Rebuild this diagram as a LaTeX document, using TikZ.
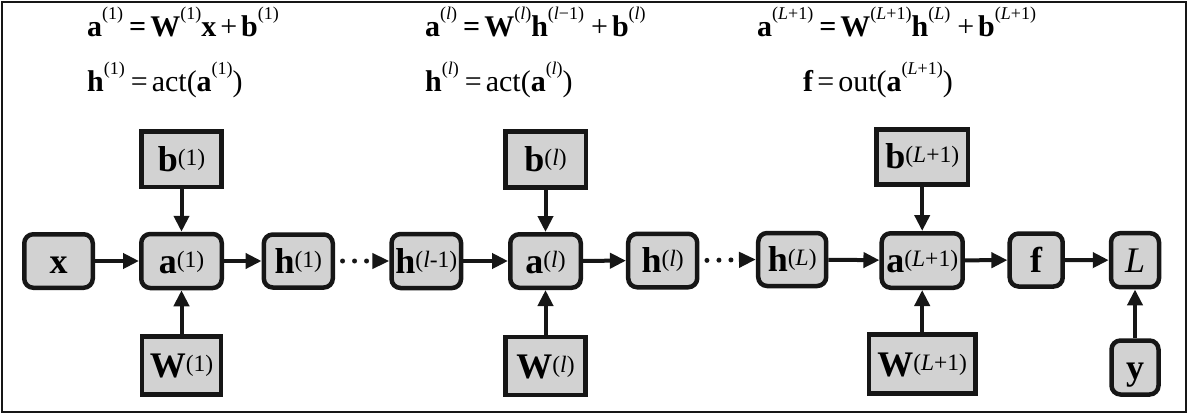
\documentclass[tikz,border=0pt]{standalone}
\usepackage{fontspec}
\setmainfont{Liberation Serif}
\usetikzlibrary{arrows.meta}
\definecolor{boxfill}{RGB}{210,210,210}
\definecolor{ink}{RGB}{22,22,22}
\newcommand{\eqsup}[1]{\raisebox{17pt}{\fontsize{18}{18}\selectfont\mdseries #1}}
\newcommand{\bxsup}[1]{\raisebox{6pt}{\fontsize{23.5}{23.5}\selectfont\mdseries #1}}
\newcommand{\gap}{\kern4pt}
\tikzset{
  boxbase/.style={draw=ink, fill=boxfill, line width=4.5pt, inner sep=0pt,
    text height=24pt, text depth=0pt, font=\fontsize{36}{36}\selectfont\bfseries},
  rbox/.style={boxbase, rounded corners=9pt},
  sbox/.style={boxbase},
  arr/.style={draw=ink, line width=4pt, -{Triangle[length=16pt,width=15pt]}},
  dotarr/.style={draw=ink, line width=5pt, line cap=round, dash pattern=on 0pt off 12pt,
    shorten <=7.5pt, -{Triangle[length=17pt,width=15pt]}},
  eqn/.style={anchor=base west, inner sep=0pt, font=\fontsize{30}{30}\selectfont}
}
\begin{document}
\begin{tikzpicture}[x=1pt,y=-1pt]
\useasboundingbox (0,0) rectangle (1188,414);
\draw[ink, line width=1.6pt] (2,2) rectangle (1186,412);

% equations
\node[eqn] (e1) at (87,36.5) {\textbf{a}\eqsup{(1)}\kern6pt\textbf{=}\gap\textbf{W}\eqsup{(1)}\textbf{x}\gap+\gap\textbf{b}\eqsup{(1)}};
\node[eqn] (e2) at (87,91.5) {\textbf{h}\eqsup{(1)}\kern6pt=\gap act(\textbf{a}\eqsup{(1)})};
\node[eqn] (e3) at (425,36.5) {\textbf{a}\eqsup{(\textit{l})}\kern6pt\textbf{=}\gap\textbf{W}\eqsup{(\textit{l})}\textbf{h}\eqsup{(\textit{l}−1)}\kern7pt+\gap\textbf{b}\eqsup{(\textit{l})}};
\node[eqn] (e4) at (425,91.5) {\textbf{h}\eqsup{(\textit{l})}\kern6pt=\gap act(\textbf{a}\eqsup{(\textit{l})})};
\node[eqn] (e5) at (757,36.5) {\textbf{a}\eqsup{(\textit{L}+1)}\kern6pt\textbf{=}\gap\textbf{W}\eqsup{(\textit{L}+1)}\textbf{h}\eqsup{(\textit{L})}\kern7pt+\gap\textbf{b}\eqsup{(\textit{L}+1)}};
\node[eqn] (e6) at (803,91.5) {\textbf{f}\gap=\gap out(\textbf{a}\eqsup{(\textit{L}+1)})};

% main row
\node[rbox, minimum width=68.5pt, minimum height=53.5pt] (x) at (58.5,261) {x};
\node[rbox, minimum width=80.5pt, minimum height=54pt] (a1) at (181.5,261) {a\bxsup{(1)}};
\node[sbox, minimum width=80pt, minimum height=55.5pt] (b1) at (181.5,159.3) {b\bxsup{(1)}};
\node[sbox, minimum width=79pt, minimum height=58pt] (W1) at (181.5,365.5) {W\bxsup{(1)}};
\node[rbox, minimum width=69pt, minimum height=53pt] (h1) at (298.3,261) {h\bxsup{(1)}};
\node[rbox, minimum width=69.5pt, minimum height=54pt] (hlm) at (426.3,261) {h\bxsup{(\textit{l}-1)}};
\node[rbox, minimum width=70.5pt, minimum height=53.5pt] (al) at (545.5,261) {a\bxsup{(\textit{l})}};
\node[sbox, minimum width=80.5pt, minimum height=56pt] (bl) at (545.5,159.6) {b\bxsup{(\textit{l})}};
\node[sbox, minimum width=80pt, minimum height=58pt] (Wl) at (545.5,366.2) {W\bxsup{(\textit{l})}};
\node[rbox, minimum width=69pt, minimum height=53.5pt] (hl) at (662.7,260.5) {h\bxsup{(\textit{l})}};
\node[rbox, minimum width=68pt, minimum height=53pt] (hL) at (792.2,259.5) {h\bxsup{(\textit{L})}};
\node[rbox, minimum width=81pt, minimum height=54.5pt] (aL) at (922.2,260.5) {a\bxsup{(\textit{L}+1)}};
\node[sbox, minimum width=91.5pt, minimum height=55pt] (bL) at (922.2,157) {b\bxsup{(\textit{L}+1)}};
\node[sbox, minimum width=106.5pt, minimum height=59pt] (WL) at (922.2,364.2) {W\bxsup{(\textit{L}+1)}};
\node[rbox, minimum width=53pt, minimum height=53pt] (f) at (1036.2,260) {f};
\node[rbox, minimum width=48pt, minimum height=54pt, font=\fontsize{36}{36}\selectfont\mdseries\itshape] (L) at (1135,260.2) {L};
\node[rbox, minimum width=47pt, minimum height=54pt] (y) at (1135,367.5) {y};

% connectors
\draw[arr] (x) -- (a1);
\draw[arr] (a1) -- (h1);
\draw[arr] (b1) -- (a1);
\draw[arr] (W1) -- (a1);
\draw[dotarr] (h1.east) -- (hlm.west);
\draw[arr] (hlm) -- (al);
\draw[arr] (bl) -- (al);
\draw[arr] (Wl) -- (al);
\draw[arr] (al) -- (hl);
\draw[dotarr] (hl.east) -- (hL.west);
\draw[arr] (hL) -- (aL);
\draw[arr] (bL) -- (aL);
\draw[arr] (WL) -- (aL);
\draw[arr] (aL) -- (f);
\draw[arr] (f) -- (L);
\draw[arr] (y) -- (L);
\end{tikzpicture}
\end{document}
